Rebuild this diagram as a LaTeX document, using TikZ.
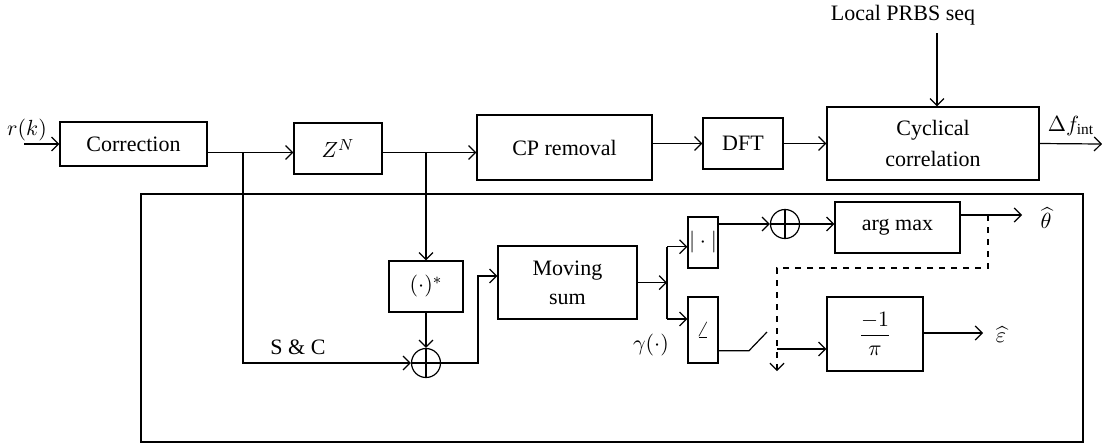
\documentclass[tikz,border=0pt]{standalone}
\usepackage{fontspec}
\setmainfont{Liberation Serif}
\usepackage{amsmath}
\usetikzlibrary{arrows.meta}
\begin{document}
\begin{tikzpicture}[x=0.5pt,y=-0.5pt,
  line width=0.6pt,
  >={Straight Barb[length=3.5pt,width=7pt]},
  every node/.style={font=\fontsize{11}{14.5}\selectfont},
  blk/.style={draw,inner sep=0pt,align=center},
  oplus/.style={draw,circle,inner sep=0pt,minimum size=14.5pt,
    path picture={\draw (path picture bounding box.north) -- (path picture bounding box.south)
      (path picture bounding box.west) -- (path picture bounding box.east);}},
  lbl/.style={inner sep=0pt}]
\useasboundingbox (0,0) rectangle (1102,447);
% frame
\draw (141,194) rectangle (1083,442);
% top row
\node[blk,minimum width=73.5pt,minimum height=22pt] (corr) at (133.5,144) {Correction};
\node[blk,minimum width=44pt,minimum height=25.5pt] (zn) at (338,148.5) {$Z^N$};
\node[blk,minimum width=87.5pt,minimum height=32.5pt] (cp) at (564.5,147.5) {CP removal};
\node[blk,minimum width=40pt,minimum height=25.5pt] (dft) at (743,143.5) {DFT};
\node[blk,minimum width=106pt,minimum height=36.5pt] (cyc) at (933,143.5) {Cyclical\\[1pt]correlation};
% lower
\node[blk,minimum width=37pt,minimum height=25.5pt] (conj) at (426,286.5) {$(\cdot)^*$};
\node[oplus] (s1) at (426,363) {};
\node[blk,minimum width=69.5pt,minimum height=36.5pt] (msum) at (567.5,282.5) {Moving\\sum};
\node[blk,minimum width=15pt,minimum height=25.5pt] (abs) at (703,242.5) {$|\cdot|$};
\node[blk,minimum width=15pt,minimum height=33pt] (ang) at (703,330) {$\angle$};
\node[oplus] (s2) at (785,224) {};
\node[blk,minimum width=62.5pt,minimum height=25.5pt] (amax) at (897.5,227.5) {arg max};
\node[blk,minimum width=48pt,minimum height=37pt] (pi) at (875,334) {$\dfrac{-1}{\pi}$};
% labels
\node[lbl] (rk) at (27,130) {$r(k)$};
\node[lbl] (prbs) at (903,15) {Local PRBS seq};
\node[lbl] (df) at (1071,126) {$\Delta f_{\mathrm{int}}$};
\node[lbl] (sc) at (298,347) {S \& C};
\node[lbl] (gam) at (651,345) {$\gamma(\cdot)$};
\node[lbl] (th) at (1046,218) {$\widehat{\theta}$};
\node[lbl] (ep) at (1001,335) {$\widehat{\varepsilon}$};
% coordinates
\coordinate (in) at (24,144);
\coordinate (b1) at (243,152.5);
\coordinate (b2) at (426,152.5);
\coordinate (b3) at (667,282.6);
\coordinate (out1) at (1102,144);
\coordinate (prbsA) at (937,33);
\coordinate (thA) at (1022,215);
\coordinate (epA) at (983,333);
\coordinate (d1) at (988,215);
\coordinate (d2) at (777,268);
\coordinate (d3) at (777,371);
\coordinate (sw1) at (749,350.7);
\coordinate (sw2) at (767,332);
\coordinate (sw3) at (777,349);
% connectors
\draw[->] (in) -- (corr.west);
\draw[->] (corr.east |- b1) -- (zn.west |- b1);
\draw[->] (zn.east |- b2) -- (cp.west |- b2);
\draw[->] (cp.east |- dft.west) -- (dft.west);
\draw[->] (dft.east) -- (cyc.west);
\draw[->] (cyc.east) -- (out1);
\draw[->] (prbsA) -- (prbsA |- cyc.north);
\draw[->] (b1) -- (b1 |- s1) -- (s1.west);
\draw[->] (b2) -- (conj.north);
\draw[->] (conj.south) -- (s1.north);
\draw[->] (s1.east) -- (478,363) -- (478,276) -- (msum.west |- 0,276);
\draw[->] (msum.east |- b3) -- (b3);
\draw (b3) -- (667,246.7);
\draw (b3) -- (667,319);
\draw[->] (667,246.7) -- (abs.west |- 0,246.7);
\draw[->] (667,319) -- (ang.west |- 0,319);
\draw[->] (abs.east |- s2) -- (s2.west);
\draw[->] (s2.east) -- (amax.west |- s2);
\draw[->] (amax.east |- thA) -- (thA);
\draw[dashed,->] (d1) -- (d1 |- d2) -- (d2) -- (d3);
\draw (ang.east |- sw1) -- (sw1) -- (sw2);
\draw[->] (sw3) -- (pi.west |- sw3);
\draw[->] (pi.east |- epA) -- (epA);
\end{tikzpicture}
\end{document}
